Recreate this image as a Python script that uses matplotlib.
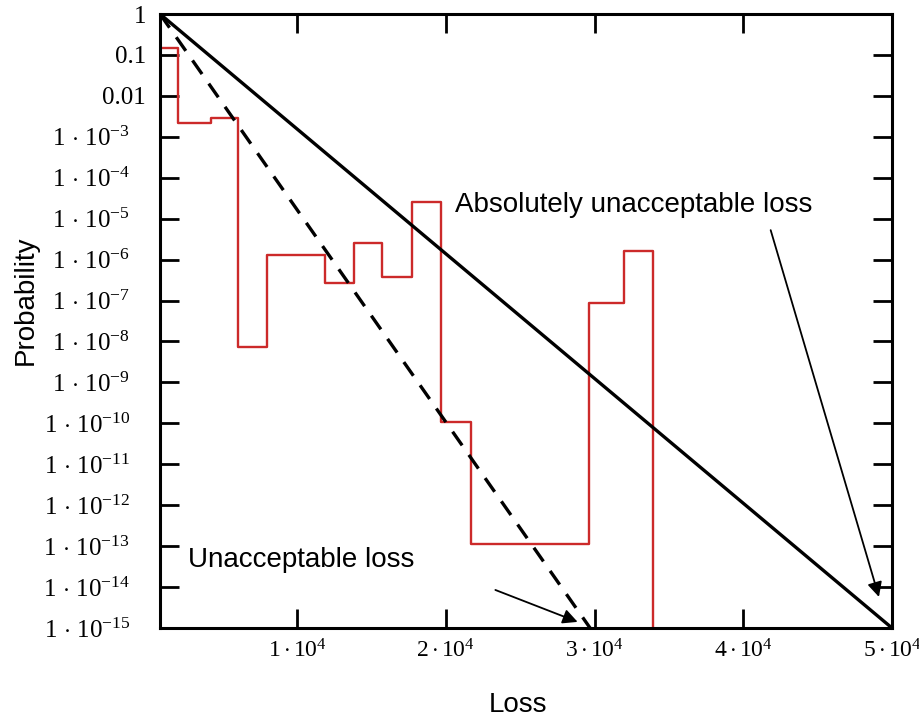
import numpy as np
import matplotlib
matplotlib.use('Agg')
import matplotlib.pyplot as plt
import matplotlib.transforms as mtransforms
from matplotlib.ticker import FixedLocator, FixedFormatter

plt.rcParams['font.family'] = ['Liberation Sans', 'DejaVu Sans']
plt.rcParams['mathtext.fontset'] = 'custom'
plt.rcParams['mathtext.rm'] = 'Liberation Serif'
plt.rcParams['mathtext.it'] = 'Liberation Serif:italic'

# 損失區間的邊界 (step 邊界) 與機率
x_min = 780
x_max = 5e4
loss_edges = [x_min, 2000, 4200, 6000, 8000, 11900, 13800, 15700, 17700,
              19700, 21700, 29600, 32000, 33900]
prob_values = [1.48e-1, 2.2e-3, 2.9e-3, 7.3e-9, 1.3e-6, 2.7e-7, 2.6e-6,
               3.7e-7, 2.5e-5, 1.1e-10, 1.1e-13, 8.7e-8, 1.6e-6, 1e-17]

# 兩條界限線
absolute_line_x = [x_min, 50000]
absolute_line_y = [1, 1e-15]
unaccept_line_x = [x_min, 29700]
unaccept_line_y = [1, 1e-15]

x_ticks = [1e4, 2e4, 3e4, 4e4, 5e4]
x_tick_labels = [r'$1\cdot10^{4}$', r'$2\cdot10^{4}$', r'$3\cdot10^{4}$',
                 r'$4\cdot10^{4}$', r'$5\cdot10^{4}$']
y_ticks = [10.0 ** (-k) for k in range(0, 16)]
y_tick_labels = ['1', '0.1', '0.01'] + [r'$1\,\cdot\,10^{-%d}$' % k for k in range(3, 16)]

fig = plt.figure(figsize=(9.2, 7.18), dpi=100)
ax = fig.add_axes([0.1739, 0.1253, 0.7957, 0.8552])

ax.step(loss_edges, prob_values, where='post', color='#cc2a2a', linewidth=1.7)
ax.plot(absolute_line_x, absolute_line_y, color='black', linewidth=2.4)
ax.plot(unaccept_line_x, unaccept_line_y, color='black', linewidth=2.4,
        linestyle=(0, (5, 3.5)))

ax.set_yscale('log')
ax.set_xlim(x_min, x_max)
ax.set_ylim(1e-15, 1)

ax.xaxis.set_major_locator(FixedLocator(x_ticks))
ax.xaxis.set_major_formatter(FixedFormatter(x_tick_labels))
ax.yaxis.set_major_locator(FixedLocator(y_ticks))
ax.yaxis.set_major_formatter(FixedFormatter(y_tick_labels))
ax.yaxis.set_minor_locator(FixedLocator([]))

ax.tick_params(axis='both', which='major', direction='in', length=14, width=2,
               top=True, right=True, labelsize=18)
ax.tick_params(axis='x', pad=8, labelsize=17)
ax.tick_params(axis='y', pad=10)
for lbl in ax.get_xticklabels() + ax.get_yticklabels():
    lbl.set_fontfamily('Liberation Serif')
# 指數形式的標籤往左移一些
shift = mtransforms.ScaledTranslation(-16 / 100, 0, fig.dpi_scale_trans)
for tick in ax.yaxis.get_major_ticks()[3:]:
    tick.label1.set_transform(tick.label1.get_transform() + shift)
for sp in ax.spines.values():
    sp.set_linewidth(2.2)

ax.set_xlabel('Loss', fontsize=20)
ax.set_ylabel('Probability', fontsize=20)
ax.xaxis.set_label_coords(0.489, -0.104)
ax.yaxis.set_label_coords(-0.165, 0.534)

# 標註文字與箭頭
ax.annotate('', xy=(49120, 10 ** -14.24), xytext=(41840, 10 ** -5.28),
            arrowprops=dict(arrowstyle='-|>', color='black', lw=1.3,
                            mutation_scale=22, shrinkA=0, shrinkB=0))
ax.text(20640, 10 ** -4.67, 'Absolutely unacceptable loss', fontsize=20,
        ha='left', va='center')
ax.annotate('', xy=(28860, 10 ** -14.85), xytext=(23330, 10 ** -14.07),
            arrowprops=dict(arrowstyle='-|>', color='black', lw=1.3,
                            mutation_scale=22, shrinkA=0, shrinkB=0))
ax.text(2660, 10 ** -13.34, 'Unacceptable loss', fontsize=20,
        ha='left', va='center')

fig.savefig('out.png', dpi=100)
